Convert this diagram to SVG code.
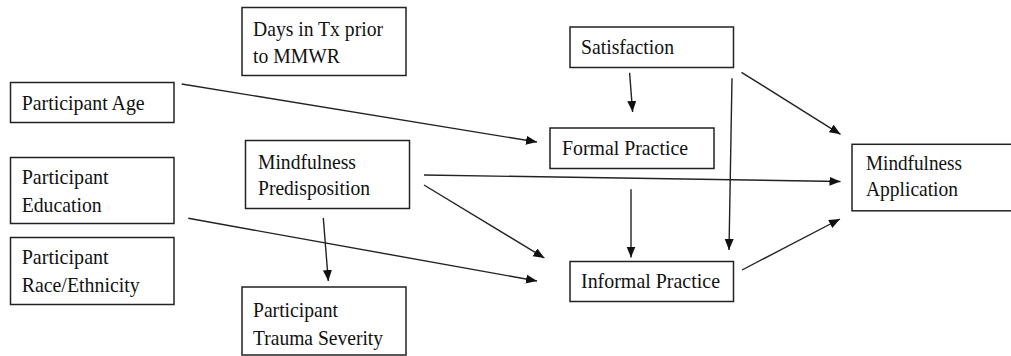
<svg xmlns="http://www.w3.org/2000/svg" width="1011" height="356" viewBox="0 0 1011 356">
<style>
.box{fill:#fff;stroke:#222;stroke-width:1.5}
.t{font-family:"Liberation Serif","Times New Roman",serif;font-size:22px;fill:#111}
.c{stroke:#222;stroke-width:1.4;fill:none;marker-end:url(#ah)}
</style>
<defs>
<marker id="ah" markerUnits="userSpaceOnUse" markerWidth="12" markerHeight="10" refX="11" refY="4.5" orient="auto">
<path d="M0,0 L11,4.5 L0,9 z" fill="#111"/>
</marker>
</defs>
<rect width="1011" height="356" fill="#fff"/>
<g id="connectors">
<line class="c" x1="181.7" y1="84" x2="537" y2="142"/>
<line class="c" x1="629.6" y1="72.7" x2="632.6" y2="112"/>
<line class="c" x1="732" y1="78.3" x2="729" y2="250"/>
<line class="c" x1="741.5" y1="72.3" x2="840.5" y2="134.3"/>
<line class="c" x1="424" y1="175" x2="840.5" y2="181.5"/>
<line class="c" x1="424" y1="185" x2="544.4" y2="258"/>
<line class="c" x1="323.3" y1="218" x2="328.3" y2="281"/>
<line class="c" x1="188.3" y1="218.3" x2="537" y2="281"/>
<line class="c" x1="631" y1="189.3" x2="631" y2="257.5"/>
<line class="c" x1="742" y1="270" x2="840" y2="219"/>
</g>
<g id="days">
<rect class="box" x="242" y="7.5" width="164" height="68"/>
<text class="t" x="253" y="35.5" textLength="130" lengthAdjust="spacingAndGlyphs">Days in Tx prior</text>
<text class="t" x="253" y="62.5" textLength="87" lengthAdjust="spacingAndGlyphs">to MMWR</text>
</g>
<g id="age">
<rect class="box" x="10.5" y="82.5" width="163.5" height="40"/>
<text class="t" x="21.7" y="110" textLength="123" lengthAdjust="spacingAndGlyphs">Participant Age</text>
</g>
<g id="education">
<rect class="box" x="10.5" y="157.5" width="163.5" height="66"/>
<text class="t" x="21.7" y="183.5" textLength="87" lengthAdjust="spacingAndGlyphs">Participant</text>
<text class="t" x="21.7" y="212" textLength="80" lengthAdjust="spacingAndGlyphs">Education</text>
</g>
<g id="race">
<rect class="box" x="10.5" y="237.5" width="163.5" height="67"/>
<text class="t" x="21.7" y="263.5" textLength="87" lengthAdjust="spacingAndGlyphs">Participant</text>
<text class="t" x="21.7" y="292" textLength="118" lengthAdjust="spacingAndGlyphs">Race/Ethnicity</text>
</g>
<g id="predisposition">
<rect class="box" x="245.5" y="140.5" width="164" height="68"/>
<text class="t" x="258" y="168.5" textLength="98" lengthAdjust="spacingAndGlyphs">Mindfulness</text>
<text class="t" x="258" y="195" textLength="112" lengthAdjust="spacingAndGlyphs">Predisposition</text>
</g>
<g id="trauma">
<rect class="box" x="242" y="287" width="164" height="68"/>
<text class="t" x="253" y="317" textLength="85" lengthAdjust="spacingAndGlyphs">Participant</text>
<text class="t" x="253" y="345" textLength="130" lengthAdjust="spacingAndGlyphs">Trauma Severity</text>
</g>
<g id="satisfaction">
<rect class="box" x="570" y="27" width="163.5" height="40.5"/>
<text class="t" x="581" y="53.5" textLength="93" lengthAdjust="spacingAndGlyphs">Satisfaction</text>
</g>
<g id="formal">
<rect class="box" x="550" y="128" width="164" height="40.5"/>
<text class="t" x="562" y="155" textLength="126" lengthAdjust="spacingAndGlyphs">Formal Practice</text>
</g>
<g id="informal">
<rect class="box" x="570" y="261.5" width="163.5" height="40"/>
<text class="t" x="581" y="287.5" textLength="139" lengthAdjust="spacingAndGlyphs">Informal Practice</text>
</g>
<g id="application">
<rect class="box" x="852" y="144.3" width="170" height="66.5"/>
<text class="t" x="866" y="169.5" textLength="96" lengthAdjust="spacingAndGlyphs">Mindfulness</text>
<text class="t" x="866" y="195.5" textLength="92" lengthAdjust="spacingAndGlyphs">Application</text>
</g>
</svg>
